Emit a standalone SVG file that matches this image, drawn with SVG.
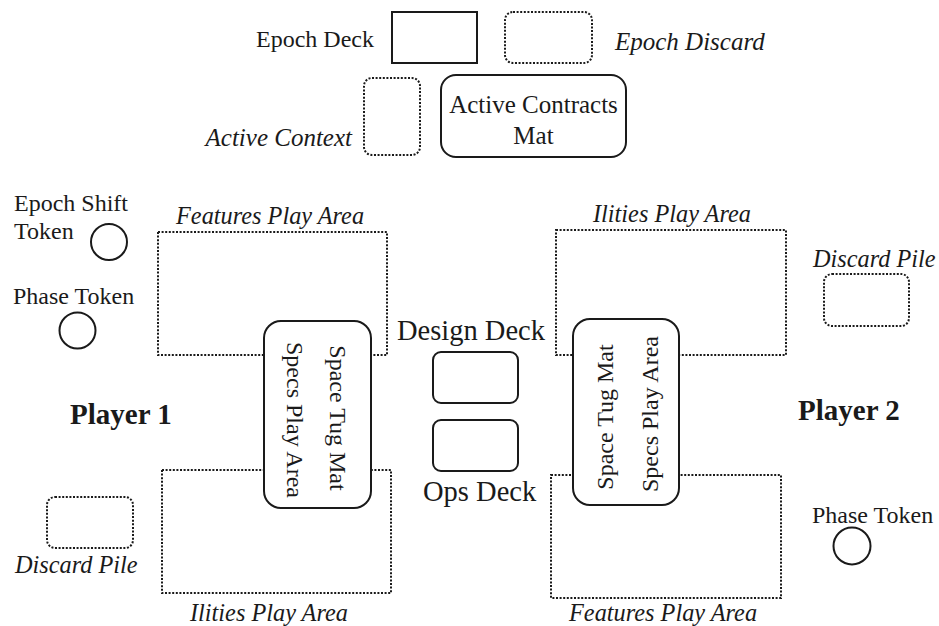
<svg xmlns="http://www.w3.org/2000/svg" width="939" height="626" viewBox="0 0 939 626">
<style>
text{font-family:"Liberation Serif","Times New Roman",serif;font-size:24px;fill:#1a1a1a}
.it{font-style:italic;font-size:24.3px}
.big{font-size:28.5px}
.bold{font-weight:bold;font-size:29px}
.solid{fill:#fff;stroke:#1a1a1a;stroke-width:2}
.dot{fill:none;stroke:#1a1a1a;stroke-width:2;stroke-dasharray:2 1.6}
</style>
<rect width="939" height="626" fill="#fff"/>
<g id="epoch-deck">
<rect class="solid" x="392" y="12" width="85" height="51"/>
<text x="256" y="47">Epoch Deck</text>
</g>
<g id="epoch-discard">
<rect class="dot" x="505" y="12" width="87" height="51" rx="8"/>
<text class="it" x="615" y="50" style="font-size:25px">Epoch Discard</text>
</g>
<g id="active-context">
<rect class="dot" x="364" y="78" width="56" height="77" rx="8"/>
<text class="it" x="352" y="146" text-anchor="end" style="font-size:25px">Active Context</text>
</g>
<g id="active-contracts-mat">
<rect class="solid" x="441" y="75" width="185" height="82" rx="15"/>
<text x="533.5" y="113" text-anchor="middle" style="font-size:25px">Active Contracts</text>
<text x="533.5" y="144" text-anchor="middle" style="font-size:25px">Mat</text>
</g>
<g id="epoch-shift-token">
<text x="14" y="211">Epoch Shift</text>
<text x="14" y="239">Token</text>
<circle class="solid" cx="109" cy="242" r="18"/>
</g>
<g id="p1-phase-token">
<text x="13" y="304">Phase Token</text>
<circle class="solid" cx="77.5" cy="330.5" r="18"/>
</g>
<g id="p1-features-area">
<rect class="dot" x="158" y="232" width="229" height="123"/>
<text class="it" x="176" y="224">Features Play Area</text>
</g>
<g id="p1-ilities-area">
<rect class="dot" x="162" y="470" width="229" height="123"/>
<text class="it" x="190" y="621">Ilities Play Area</text>
</g>
<g id="p1-discard">
<rect class="dot" x="47" y="497" width="86" height="51" rx="8"/>
<text class="it" x="15" y="573">Discard Pile</text>
</g>
<g id="player1">
<text class="bold" x="70" y="424">Player 1</text>
</g>
<g id="p1-mat">
<rect class="solid" x="264" y="321" width="107" height="187" rx="17"/>
<text transform="translate(330,418) rotate(90)" text-anchor="middle">Space Tug Mat</text>
<text transform="translate(287,420) rotate(90)" text-anchor="middle">Specs Play Area</text>
</g>
<g id="design-deck">
<text class="big" x="397" y="340">Design Deck</text>
<rect class="solid" x="433" y="352" width="85" height="51" rx="8"/>
</g>
<g id="ops-deck">
<rect class="solid" x="433" y="420" width="85" height="51" rx="8"/>
<text class="big" x="423" y="501">Ops Deck</text>
</g>
<g id="p2-ilities-area">
<rect class="dot" x="556" y="230" width="230" height="125"/>
<text class="it" x="593" y="222">Ilities Play Area</text>
</g>
<g id="p2-features-area">
<rect class="dot" x="551" y="475" width="230" height="123"/>
<text class="it" x="569" y="621">Features Play Area</text>
</g>
<g id="p2-mat">
<rect class="solid" x="573" y="319" width="106" height="186" rx="17"/>
<text transform="translate(613,417) rotate(-90)" text-anchor="middle">Space Tug Mat</text>
<text transform="translate(658,414) rotate(-90)" text-anchor="middle">Specs Play Area</text>
</g>
<g id="p2-discard">
<rect class="dot" x="824" y="274" width="85" height="52" rx="8"/>
<text class="it" x="813" y="267">Discard Pile</text>
</g>
<g id="player2">
<text class="bold" x="798" y="420">Player 2</text>
</g>
<g id="p2-phase-token">
<text x="812" y="523">Phase Token</text>
<circle class="solid" cx="852" cy="546" r="18.5"/>
</g>
<g id="connectors"></g>
</svg>
